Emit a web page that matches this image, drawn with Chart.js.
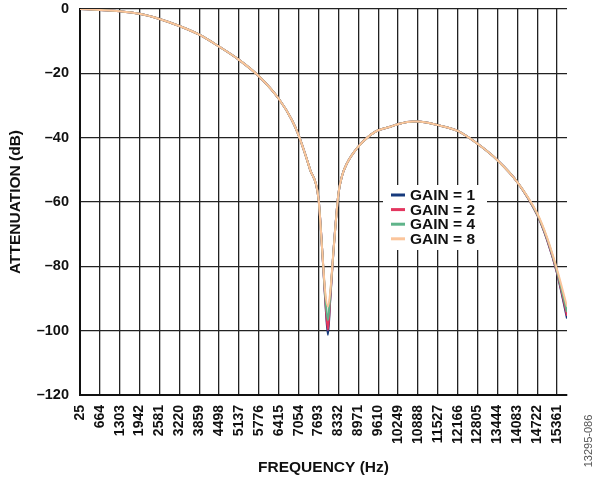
<!DOCTYPE html>
<html>
<head>
<meta charset="utf-8">
<script src="https://cdn.jsdelivr.net/npm/chart.js@4"></script>
<style>
  html, body { margin: 0; padding: 0; background: #fff; }
  #wrap { width: 594px; height: 482px; }
</style>
</head>
<body>
<div id="wrap"><canvas id="myChart" width="594" height="482"></canvas></div>
<script>
// frequency points (Hz)
const freq = [25, 664, 1303, 1942, 2581, 3220, 3859, 4498, 5137, 5776,
  6415, 6836, 7054, 7424, 7693, 7811, 7908, 7995, 8069, 8175,
  8332, 8445, 8606, 8971, 9354, 9610, 9998, 10249, 10737, 10888,
  11527, 12166, 12805, 13444, 14083, 14722, 15038, 15361, 15680];
// attenuation (dB) per gain
const gain1 = [0, -0.3, -0.7, -1.5, -3.1, -5.3, -8.0, -11.7, -15.8, -20.9,
  -27.9, -34.5, -39.3, -50, -59, -75, -90.5, -101.3, -90.5, -75,
  -57.5, -52, -48, -42.8, -39.2, -37.7, -36.6, -35.8, -35.0, -35.0,
  -36.1, -37.9, -41.9, -47.0, -53.8, -64, -71.8, -82.2, -96.2];
const gain2 = [0, -0.3, -0.7, -1.5, -3.1, -5.3, -8.0, -11.7, -15.8, -20.9,
  -27.9, -34.5, -39.3, -50, -59, -75, -90, -99.8, -90, -75,
  -57.5, -52, -48, -42.8, -39.2, -37.7, -36.6, -35.8, -35.0, -35.0,
  -36.1, -37.9, -41.9, -47.0, -53.8, -64, -71.6, -82, -95.4];
const gain4 = [0, -0.3, -0.7, -1.5, -3.1, -5.3, -8.0, -11.7, -15.8, -20.9,
  -27.9, -34.5, -39.3, -50, -59, -75, -89, -96.7, -89, -75,
  -57.5, -52, -48, -42.8, -39.2, -37.7, -36.6, -35.8, -35.0, -35.0,
  -36.1, -37.9, -41.9, -47.0, -53.8, -63.8, -71.3, -81.6, -94.2];
const gain8 = [0, -0.3, -0.7, -1.5, -3.1, -5.3, -8.0, -11.7, -15.8, -20.9,
  -27.9, -34.5, -39.3, -50, -59, -75, -88, -92.5, -88, -75,
  -57.5, -52, -48, -42.8, -39.2, -37.7, -36.6, -35.8, -35.0, -35.0,
  -36.1, -37.9, -41.9, -47.0, -53.8, -63.5, -71, -81, -92.5];
const seriesNames = ["GAIN = 1", "GAIN = 2", "GAIN = 4", "GAIN = 8"];
const seriesColors = ["#163a7c", "#e3365f", "#5fb48a", "#fbc59b"];
// x tick labels
const xTicks = [25, 664, 1303, 1942, 2581, 3220, 3859, 4498, 5137, 5776, 6415, 7054,
  7693, 8332, 8971, 9610, 10249, 10888, 11527, 12166, 12805, 13444, 14083, 14722, 15361];
const yTicks = [0, -20, -40, -60, -80, -100, -120];

const FONT = "'Liberation Sans', Arial, sans-serif";
const allSeries = [gain1, gain2, gain4, gain8];

const datasets = allSeries.map(function(s, i) {
  return {
    label: seriesNames[i],
    data: freq.map(function(f, j) { return {x: f, y: s[j]}; }),
    borderColor: seriesColors[i],
    backgroundColor: seriesColors[i],
    borderWidth: 2,
    pointRadius: 0,
    cubicInterpolationMode: 'monotone',
    order: 4 - i   // gain 8 drawn on top
  };
});

// legend box drawn inside the plot + the figure id
const extras = {
  id: 'extras',
  afterDraw: function(chart) {
    const ctx = chart.ctx;
    ctx.save();
    ctx.fillStyle = '#fff';
    ctx.fillRect(383, 185, 104, 65);
    ctx.font = "bold 15.5px " + FONT;
    ctx.textBaseline = 'middle';
    ctx.textAlign = 'left';
    chart.data.datasets.forEach(function(ds, i) {
      const y = 195 + i * 14.6;
      ctx.strokeStyle = ds.borderColor;
      ctx.lineWidth = 3;
      ctx.beginPath();
      ctx.moveTo(391, y);
      ctx.lineTo(405, y);
      ctx.stroke();
      ctx.fillStyle = '#111';
      ctx.fillText(ds.label, 410, y + 1);
    });
    ctx.translate(589, 441);
    ctx.rotate(-Math.PI / 2);
    ctx.font = "11px " + FONT;
    ctx.fillStyle = '#555';
    ctx.textAlign = 'center';
    ctx.fillText("13295-086", 0, 0);
    ctx.restore();
  }
};

const ctx = document.getElementById("myChart");
const myChart = new Chart(ctx, {
  type: 'line',
  data: { datasets: datasets },
  plugins: [extras],
  options: {
    responsive: false,
    animation: false,
    layout: { padding: { left: 0, right: 27, top: 9, bottom: 0 } },
    plugins: {
      legend: { display: false },
      tooltip: { enabled: false }
    },
    scales: {
      x: {
        type: 'linear',
        min: 25,
        max: 15680,
        afterBuildTicks: function(s) { s.ticks = xTicks.map(function(v) { return {value: v}; }); },
        afterFit: function(s) { s.height = 87; s.paddingLeft = 0; s.paddingRight = 0; },
        grid: { color: '#222', lineWidth: 1.3, drawTicks: false },
        border: { color: '#111', width: 2 },
        ticks: {
          autoSkip: false,
          minRotation: 90,
          maxRotation: 90,
          padding: 10,
          color: '#111',
          font: { family: FONT, size: 14, weight: 'bold' },
          callback: function(v) { return String(v); }
        },
        title: {
          display: true,
          text: 'FREQUENCY (Hz)',
          color: '#111',
          font: { family: FONT, size: 15.5, weight: 'bold', lineHeight: 1 },
          padding: { top: 0, bottom: 7 }
        }
      },
      y: {
        min: -120,
        max: 0,
        afterBuildTicks: function(s) { s.ticks = yTicks.map(function(v) { return {value: v}; }); },
        afterFit: function(s) { s.width = 80; s.paddingTop = 0; s.paddingBottom = 0; },
        grid: { color: '#222', lineWidth: 1.3, drawTicks: false },
        border: { color: '#111', width: 2 },
        ticks: {
          padding: 11,
          color: '#111',
          font: { family: FONT, size: 14.5, weight: 'bold' },
          callback: function(v) { return v < 0 ? '\u2013' + Math.abs(v) : String(v); }
        },
        title: {
          display: true,
          text: 'ATTENUATION (dB)',
          color: '#111',
          font: { family: FONT, size: 15.5, weight: 'bold', lineHeight: 1 },
          padding: { top: 8, bottom: 0 }
        }
      }
    }
  }
});
</script>
</body>
</html>
